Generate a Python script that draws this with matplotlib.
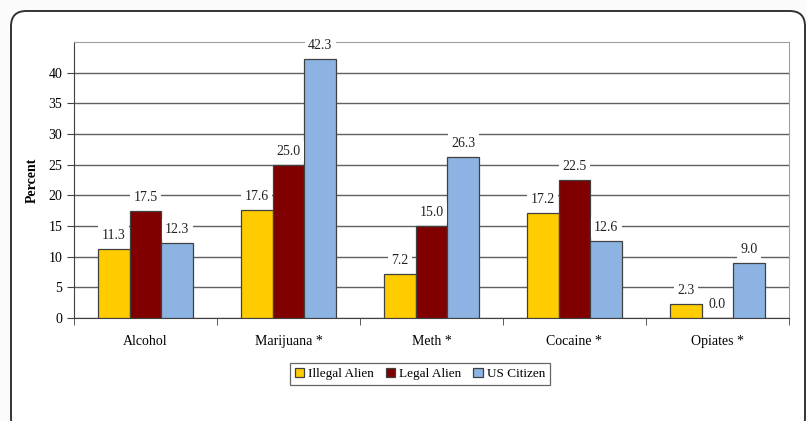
import matplotlib.pyplot as plt
import numpy as np
from matplotlib.patches import FancyBboxPatch

categorias = ["Alcohol", "Marijuana *", "Meth *", "Cocaine *", "Opiates *"]
series = ["Illegal Alien", "Legal Alien", "US Citizen"]
illegal_alien = [11.3, 17.6, 7.2, 17.2, 2.3]
legal_alien = [17.5, 25.0, 15.0, 22.5, 0.0]
us_citizen = [12.3, 42.3, 26.3, 12.6, 9.0]
cores = ["#FFCC00", "#800000", "#8DB3E2"]

plt.rcParams['font.family'] = ['Liberation Serif', 'DejaVu Serif']

fig = plt.figure(figsize=(8.06, 4.21), dpi=100)
fig.patch.set_facecolor("#fbfbfb")

# moldura arredondada
moldura = FancyBboxPatch((11 / 806, -0.03), (805 - 11) / 806, 1.03 - 11 / 421,
                         boxstyle="round,pad=0,rounding_size=0.019",
                         transform=fig.transFigure, facecolor="white",
                         edgecolor="#333333", linewidth=1.4, mutation_aspect=806 / 421,
                         zorder=-1)
fig.patches.append(moldura)

ax = fig.add_axes([74 / 806, 1 - 318 / 421, (789 - 74) / 806, (318 - 42) / 421])
ax.set_facecolor("white")

x = np.arange(len(categorias))
largura = 0.222
valores = [illegal_alien, legal_alien, us_citizen]
for i, (nome, vals) in enumerate(zip(series, valores)):
    pos = x + (i - 1) * largura
    ax.bar(pos, vals, largura, color=cores[i], edgecolor="#404040",
           linewidth=0.9, label=nome, zorder=3)
    for xp, v in zip(pos, vals):
        ax.annotate(f"{v:.1f}", (xp, v), xytext=(0, 5), textcoords="offset points",
                    ha="center", va="bottom", fontsize=10, color="#222222", zorder=5,
                    bbox=dict(boxstyle="square,pad=0.25", facecolor="white", edgecolor="none"))

ax.set_ylim(0, 45)
ax.set_xlim(-0.5, len(categorias) - 0.5)
ax.set_yticks(range(0, 41, 5))
ax.yaxis.grid(True, color="#606060", linewidth=1.0, zorder=0)
ax.set_axisbelow(True)

ax.set_xticks(x)
ax.set_xticklabels(categorias, fontsize=10)
ax.set_xticks(np.arange(-0.5, len(categorias)), minor=True)
ax.tick_params(axis="x", which="major", length=0, pad=12)
ax.tick_params(axis="x", which="minor", length=5, color="#404040", direction="out")
ax.tick_params(axis="y", length=5, color="#404040", labelsize=10, direction="out")

for lado in ["top", "right"]:
    ax.spines[lado].set_color("#a0a0a0")
for lado in ["left", "bottom"]:
    ax.spines[lado].set_color("#404040")

ax.set_ylabel("Percent", fontsize=10, fontweight="bold", labelpad=7)

leg = ax.legend(loc="center", bbox_to_anchor=(420 / 806, 1 - 374 / 421),
                bbox_transform=fig.transFigure, ncol=3, fontsize=9.5,
                frameon=True, fancybox=False, edgecolor="#404040",
                handlelength=0.7, handleheight=0.7, handletextpad=0.3,
                columnspacing=0.9, borderpad=0.35)
leg.get_frame().set_linewidth(0.9)

fig.savefig("out.png", dpi=100, facecolor=fig.get_facecolor())
